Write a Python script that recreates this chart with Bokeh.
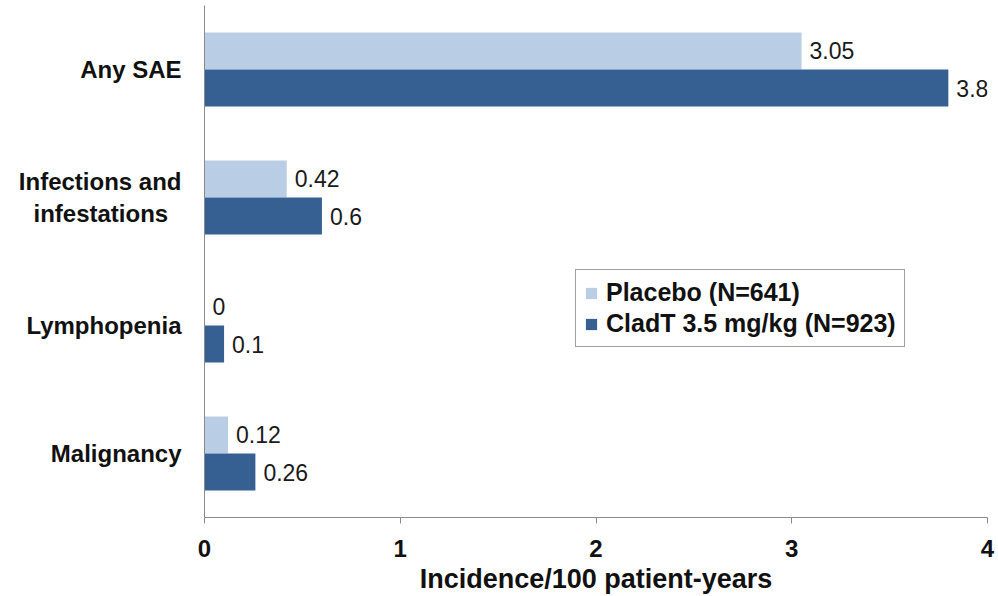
from bokeh.plotting import figure
from bokeh.models import ColumnDataSource, Range1d, FixedTicker, Legend, LegendItem
from bokeh.transform import dodge
from bokeh.embed import file_html
from bokeh.resources import INLINE
from bokeh.core.properties import value

categories = ["Any SAE", "Infections and\ninfestations\u00a0\u00a0", "Lymphopenia", "Malignancy"]
placebo = [3.05, 0.42, 0, 0.12]
cladt = [3.8, 0.6, 0.1, 0.26]
x_ticks = [0, 1, 2, 3, 4]
series_names = ["Placebo (N=641)", "CladT 3.5 mg/kg (N=923)"]
colors = ["#B9CDE5", "#376092"]

n = len(categories)
pos = [n - 1 - i for i in range(n)]
src = ColumnDataSource(dict(
    pos=pos, cat=categories, placebo=placebo, cladt=cladt,
    placebo_lbl=[f"{v:g}" for v in placebo],
    cladt_lbl=[f"{v:g}" for v in cladt],
))

FONT = "Liberation Sans"
p = figure(width=998, height=596, output_backend="svg", toolbar_location=None,
           x_range=Range1d(0, 4), y_range=Range1d(-0.5, n - 0.5),
           min_border_left=204, min_border_right=11, min_border_top=5, min_border_bottom=79)
p.outline_line_color = None
p.xgrid.grid_line_color = None
p.ygrid.grid_line_color = None
p.background_fill_color = "white"

bh = 0.29
r1 = p.hbar(y=dodge("pos", bh / 2, range=p.y_range), right="placebo", left=0, height=bh,
            source=src, fill_color=colors[0], line_color=None)
r2 = p.hbar(y=dodge("pos", -bh / 2, range=p.y_range), right="cladt", left=0, height=bh,
            source=src, fill_color=colors[1], line_color=None)

p.text(x="placebo", y=dodge("pos", bh / 2, range=p.y_range), text="placebo_lbl", source=src,
       x_offset=8, text_baseline="middle", text_align="left", text_font=value(FONT),
       text_font_size="23px", text_color="#1a1a1a")
p.text(x="cladt", y=dodge("pos", -bh / 2, range=p.y_range), text="cladt_lbl", source=src,
       x_offset=8, text_baseline="middle", text_align="left", text_font=value(FONT),
       text_font_size="23px", text_color="#1a1a1a")

# x axis
xa = p.xaxis[0]
xa.ticker = FixedTicker(ticks=x_ticks)
xa.minor_tick_line_color = None
xa.major_tick_in = 0
xa.major_tick_out = 6
xa.axis_line_color = "#8a8a8a"
xa.major_tick_line_color = "#8a8a8a"
xa.major_label_text_font = FONT
xa.major_label_text_font_style = "bold"
xa.major_label_text_font_size = "24px"
xa.major_label_text_color = "#111111"
xa.major_label_standoff = 16
xa.axis_label = "Incidence/100 patient-years"
xa.axis_label_text_font = FONT
xa.axis_label_text_font_style = "bold"
xa.axis_label_text_font_size = "27px"
xa.axis_label_text_color = "#111111"
xa.axis_label_text_line_height = 0.75
xa.axis_label_standoff = 4

# y axis
ya = p.yaxis[0]
ya.ticker = FixedTicker(ticks=pos)
ya.major_label_overrides = {pv: c for pv, c in zip(pos, categories)}
ya.minor_tick_line_color = None
ya.major_tick_line_color = None
ya.major_tick_in = 0
ya.major_tick_out = 0
ya.axis_line_color = "#8a8a8a"
ya.major_label_text_font = FONT
ya.major_label_text_font_style = "bold"
ya.major_label_text_font_size = "24px"
ya.major_label_text_color = "#111111"
ya.major_label_standoff = 23

legend = Legend(items=[LegendItem(label=series_names[0], renderers=[r1]),
                       LegendItem(label=series_names[1], renderers=[r2])],
                location=(371, 170))
legend.border_line_color = "#404040"
legend.border_line_width = 1
legend.background_fill_color = "white"
legend.background_fill_alpha = 1
legend.label_text_font = FONT
legend.label_text_font_style = "bold"
legend.label_text_font_size = "25px"
legend.label_text_color = "#111111"
legend.glyph_width = 14
legend.glyph_height = 14
legend.label_standoff = 8
legend.padding = 8
legend.spacing = 2
legend.margin = 0
p.add_layout(legend, "center")

open("out.html", "w").write(file_html(p, INLINE))
